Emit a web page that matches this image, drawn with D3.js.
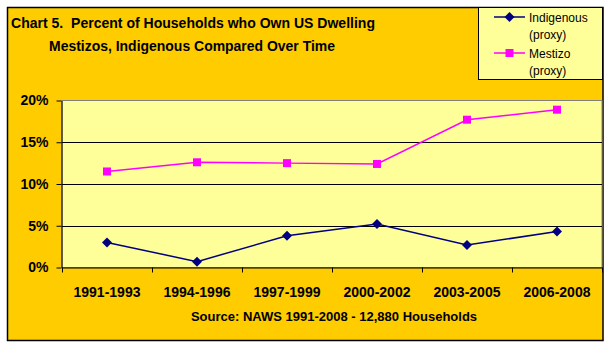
<!DOCTYPE html>
<html>
<head>
<meta charset="utf-8">
<script src="https://cdn.jsdelivr.net/npm/d3@7"></script>
<style>
  html, body { margin: 0; padding: 0; background: #ffffff; }
  svg { display: block; font-family: "Liberation Sans", Arial, sans-serif; }
</style>
</head>
<body>
<svg id="chart" width="611" height="348"></svg>
<script>
// Survey periods and share of households owning a US dwelling (percent)
const periods = ["1991-1993", "1994-1996", "1997-1999", "2000-2002", "2003-2005", "2006-2008"];
const indigenous = [3.0, 0.7, 3.8, 5.2, 2.7, 4.3];
const mestizo = [11.5, 12.6, 12.5, 12.4, 17.7, 18.9];
const yTicks = [0, 5, 10, 15, 20];

// Square-ish diamond marker (rotated square)
const diamondMarker = {
  draw(ctx, size) {
    const r = Math.sqrt(size / 2);
    ctx.moveTo(0, -r); ctx.lineTo(r, 0); ctx.lineTo(0, r); ctx.lineTo(-r, 0); ctx.closePath();
  }
};

const series = [
  { name: "Indigenous", sub: "(proxy)", values: indigenous, color: "#000080", marker: diamondMarker, size: 50 },
  { name: "Mestizo", sub: "(proxy)", values: mestizo, color: "#FF00FF", marker: d3.symbolSquare, size: 64 }
];

const svg = d3.select("#chart");

// Outer chart frame
svg.append("rect")
  .attr("x", 7.5).attr("y", 7.5).attr("width", 595.5).attr("height", 333)
  .attr("fill", "#FFCC00").attr("stroke", "#000").attr("stroke-width", 1.5);

const plot = { left: 62, right: 602, top: 100.5, bottom: 267.5 };

const x = d3.scaleBand().domain(periods).range([plot.left, plot.right]).padding(0);
const y = d3.scaleLinear().domain([0, 20]).range([plot.bottom, plot.top]);

// Plot area
svg.append("rect")
  .attr("x", plot.left).attr("y", plot.top)
  .attr("width", plot.right - plot.left).attr("height", plot.bottom - plot.top)
  .attr("fill", "#FFFF99").attr("stroke", "#808080").attr("stroke-width", 1);

// Horizontal gridlines
svg.append("g").selectAll("line")
  .data(yTicks.filter(t => t > 0 && t < 20))
  .join("line")
  .attr("x1", plot.left).attr("x2", plot.right)
  .attr("y1", d => Math.round(y(d)) + 0.5).attr("y2", d => Math.round(y(d)) + 0.5)
  .attr("stroke", "#000").attr("stroke-width", 1);

// Y axis
const yAxis = svg.append("g")
  .attr("transform", `translate(${plot.left - 0.5},0)`)
  .call(d3.axisLeft(y).tickValues(yTicks).tickFormat(d => d + "%").tickSize(5).tickSizeOuter(0));
yAxis.select(".domain").attr("stroke", "#000");
yAxis.selectAll(".tick line").attr("stroke", "#000");
yAxis.selectAll(".tick text")
  .attr("x", -13)
  .attr("font-family", "Liberation Sans, Arial, sans-serif")
  .attr("font-size", 14).attr("font-weight", "bold").attr("fill", "#000");

// X axis: ticks at category boundaries, labels centred in each band
const xAxisG = svg.append("g").attr("transform", `translate(0,${plot.bottom})`);
xAxisG.append("line")
  .attr("x1", plot.left).attr("x2", plot.right)
  .attr("y1", 0.5).attr("y2", 0.5).attr("stroke", "#000");
const boundaries = periods.map(p => x(p)).concat([plot.right]);
xAxisG.selectAll("line.tick")
  .data(boundaries)
  .join("line").attr("class", "tick")
  .attr("x1", d => d + 0.5).attr("x2", d => d + 0.5)
  .attr("y1", 0).attr("y2", 5).attr("stroke", "#000");
xAxisG.selectAll("text")
  .data(periods)
  .join("text")
  .attr("x", d => x(d) + x.bandwidth() / 2)
  .attr("y", 29)
  .attr("text-anchor", "middle")
  .attr("font-size", 14).attr("font-weight", "bold").attr("fill", "#000")
  .text(d => d);

// Series lines and markers
const cx = (d, i) => x(periods[i]) + x.bandwidth() / 2;
series.forEach(s => {
  const line = d3.line().x((d, i) => cx(d, i)).y(d => y(d));
  svg.append("path")
    .datum(s.values)
    .attr("d", line)
    .attr("fill", "none").attr("stroke", s.color).attr("stroke-width", 1.5);
  svg.append("g").selectAll("path")
    .data(s.values)
    .join("path")
    .attr("transform", (d, i) => `translate(${cx(d, i)},${y(d)})`)
    .attr("d", d3.symbol().type(s.marker).size(s.size))
    .attr("fill", s.color);
});

// Title
const title = svg.append("g").attr("font-size", 15).attr("font-weight", "bold").attr("fill", "#000");
title.append("text").attr("x", 11).attr("y", 28)
  .attr("xml:space", "preserve")
  .attr("textLength", 364).attr("lengthAdjust", "spacingAndGlyphs")
  .text("Chart 5.  Percent of Households who Own US Dwelling");
title.append("text").attr("x", 49).attr("y", 51)
  .attr("textLength", 286).attr("lengthAdjust", "spacingAndGlyphs")
  .text("Mestizos, Indigenous Compared Over Time");

// Source note
svg.append("text")
  .attr("x", (plot.left + plot.right) / 2 + 2).attr("y", 321)
  .attr("text-anchor", "middle")
  .attr("font-size", 13).attr("font-weight", "bold").attr("fill", "#000")
  .text("Source: NAWS 1991-2008 - 12,880 Households");

// Legend
const legend = svg.append("g");
legend.append("rect")
  .attr("x", 478.5).attr("y", 7.5).attr("width", 124).attr("height", 72)
  .attr("fill", "#FFFF99").attr("stroke", "#000").attr("stroke-width", 1);
series.forEach((s, k) => {
  const y0 = 17 + k * 36;
  legend.append("line")
    .attr("x1", 494).attr("x2", 525).attr("y1", y0).attr("y2", y0)
    .attr("stroke", s.color).attr("stroke-width", 1.5);
  legend.append("path")
    .attr("transform", `translate(509.5,${y0})`)
    .attr("d", d3.symbol().type(s.marker).size(s.size))
    .attr("fill", s.color);
  legend.append("text").attr("x", 529).attr("y", y0 + 4.5)
    .attr("font-size", 12).attr("fill", "#000").text(s.name);
  legend.append("text").attr("x", 529).attr("y", y0 + 21.5)
    .attr("font-size", 12).attr("fill", "#000").text(s.sub);
});
</script>
</body>
</html>
